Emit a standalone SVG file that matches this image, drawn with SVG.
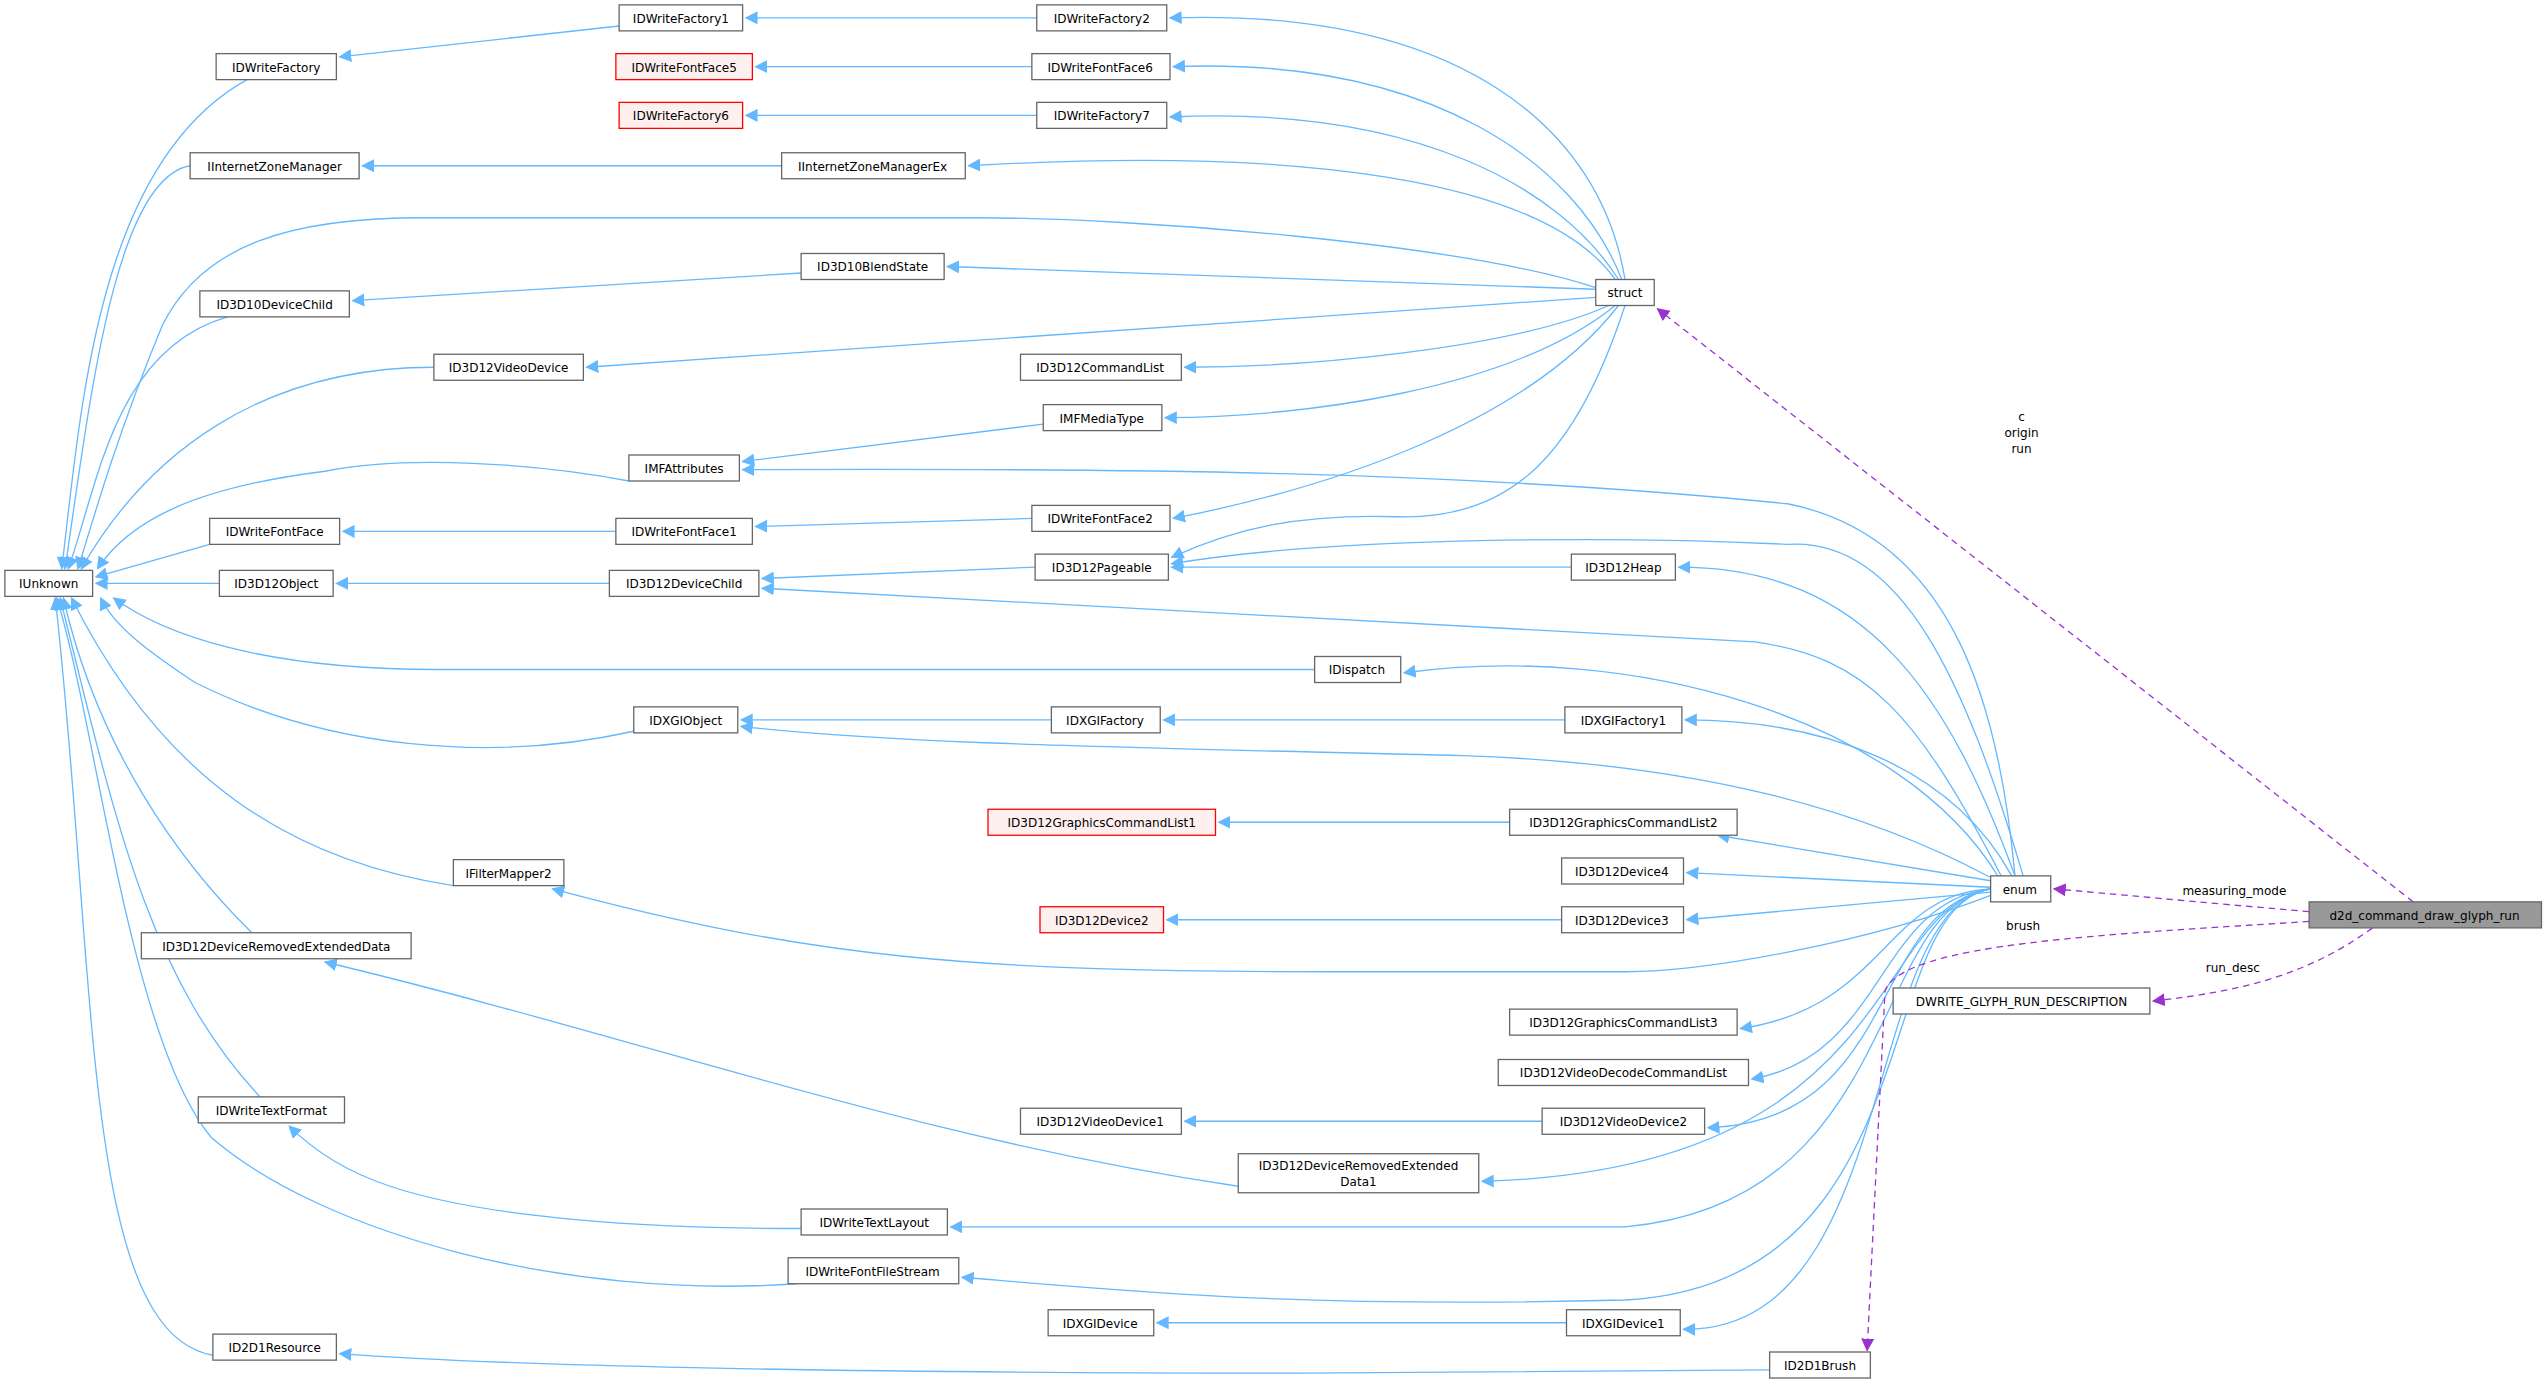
<svg xmlns="http://www.w3.org/2000/svg" width="2548" height="1385" viewBox="0 0 2548 1385">
<defs>
<marker id="ab" viewBox="0 0 10 10" refX="9" refY="5" markerWidth="8" markerHeight="8" markerUnits="userSpaceOnUse" orient="auto"><path d="M0,0 L10,5 L0,10 z" fill="#63b8ff"/></marker>
<marker id="ap" viewBox="0 0 10 10" refX="9" refY="5" markerWidth="8" markerHeight="8" markerUnits="userSpaceOnUse" orient="auto"><path d="M0,0 L10,5 L0,10 z" fill="#9a32cd"/></marker>
<style>
.n rect{fill:#fff;stroke:#666;stroke-width:0.8}
.r rect{fill:#fff0f0;stroke:#ff0000}
.g rect{fill:#999}
text{font-family:"DejaVu Sans","Liberation Sans",sans-serif;font-size:7.4px;fill:#000;text-anchor:middle}
.e path{fill:none;stroke:#63b8ff;stroke-width:0.8;marker-end:url(#ab)}
.p path{fill:none;stroke:#9a32cd;stroke-width:0.8;stroke-dasharray:4,3;marker-end:url(#ap)}
</style>
</defs>
<rect width="2548" height="1385" fill="#fff"/>
<g transform="scale(1.625)">
<g class="e">
<path d="M152,49 C60,100 50,250 38,350"/>
<path d="M117,102 C70,110 55,250 40,350"/>
<path d="M982,177 C900,150 700,134 600,134 L260,134 C180,134 125,150 100,200 C75,260 60,310 48,350"/>
<path d="M140,195 C70,215 60,300 42,350"/>
<path d="M267,226 C160,226 90,280 50,350"/>
<path d="M387,296 C330,285 250,280 200,290 C120,300 80,320 60,350"/>
<path d="M129,335 L59,355"/>
<path d="M135,359 L59,359"/>
<path d="M809,412 L270,412 C160,412 100,390 70,368"/>
<path d="M390,450 C300,470 200,460 120,420 C90,400 70,385 62,368"/>
<path d="M279,545 C180,530 100,480 44,368"/>
<path d="M155,574 C110,530 60,460 39,368"/>
<path d="M160,675 C90,600 70,500 37,368"/>
<path d="M490,790 C350,800 200,760 130,700 C80,640 60,450 35,368"/>
<path d="M131,834 C50,820 60,600 34,368"/>
<path d="M1000,172 C985,80 900,5 720,11"/>
<path d="M998,172 C970,100 880,35 722,41"/>
<path d="M996,172 C960,115 870,65 720,72"/>
<path d="M994,172 C950,110 800,90 596,102"/>
<path d="M982,178 L583,164"/>
<path d="M982,183 L361,226"/>
<path d="M990,188 C930,215 800,226 729,226"/>
<path d="M994,188 C930,240 800,257 717,257"/>
<path d="M996,188 C940,260 820,300 722,319"/>
<path d="M1000,188 C970,280 930,320 860,318 C800,316 760,325 721,343"/>
<path d="M1240,539 C1230,430 1200,330 1100,310 C900,290 700,288 457,289"/>
<path d="M1245,539 C1210,420 1170,330 1100,335 C1000,330 820,330 721,347"/>
<path d="M1240,539 C1200,430 1150,349 1033,349"/>
<path d="M1232,540 C1180,440 1150,405 1080,395 L469,362"/>
<path d="M1230,540 C1170,440 1000,395 864,414"/>
<path d="M1225,540 C1150,500 1050,470 900,465 C700,460 550,458 456,447"/>
<path d="M1238,539 C1200,470 1120,443 1037,443"/>
<path d="M1225,542 L1057,514"/>
<path d="M1225,546 L1038,537"/>
<path d="M1225,549 L1038,566"/>
<path d="M1225,551 C1150,580 1050,598 1000,598 L820,598 C600,598 500,590 340,547"/>
<path d="M1225,547 C1160,550 1160,620 1071,633"/>
<path d="M1225,547 C1155,555 1160,650 1078,664"/>
<path d="M1225,547 C1150,560 1170,690 1051,694"/>
<path d="M1225,547 C1150,560 1170,720 912,727"/>
<path d="M1225,547 C1150,560 1170,740 1000,755 L585,755"/>
<path d="M1225,547 C1150,560 1190,790 1000,800 C800,805 700,795 592,786"/>
<path d="M1225,547 C1145,560 1170,820 1036,818"/>
<path d="M381,16 L209,35"/>
<path d="M638,11 L459,11"/>
<path d="M635,41 L465,41"/>
<path d="M638,71 L459,71"/>
<path d="M481,102 L223,102"/>
<path d="M493,168 L217,185"/>
<path d="M642,261 L457,284"/>
<path d="M379,327 L211,327"/>
<path d="M635,319 L465,324"/>
<path d="M375,359 L207,359"/>
<path d="M637,349 L469,356"/>
<path d="M967,349 L721,349"/>
<path d="M647,443 L456,443"/>
<path d="M963,443 L716,443"/>
<path d="M929,506 L750,506"/>
<path d="M961,566 L718,566"/>
<path d="M949,690 L729,690"/>
<path d="M964,814 L712,814"/>
<path d="M1089,843 L800,845 C500,845 300,840 209,833"/>
<path d="M493,756 C400,756 300,750 240,730 C210,720 190,705 178,693"/>
<path d="M762,730 C560,700 400,640 200,592"/>
</g>
<g class="p">
<path d="M1485,555 L1020,190"/>
<path d="M1421,561 C1350,555 1300,550 1264,547"/>
<path d="M1421,567 C1300,575 1170,580 1160,610 L1149,831"/>
<path d="M1460,571 C1420,600 1380,610 1325,616"/>
</g>
<text x="1244" y="259">c</text><text x="1244" y="269">origin</text><text x="1244" y="279">run</text>
<text x="1375" y="551">measuring_mode</text>
<text x="1245" y="572">brush</text>
<text x="1374" y="598">run_desc</text>
<g id="IUnknown" class="n"><rect x="3" y="351" width="54" height="16"/><text x="30" y="362">IUnknown</text></g>
<g id="IDWriteFactory" class="n"><rect x="133" y="33" width="74" height="16"/><text x="170" y="44">IDWriteFactory</text></g>
<g id="IInternetZoneManager" class="n"><rect x="117" y="94" width="104" height="16"/><text x="169" y="105">IInternetZoneManager</text></g>
<g id="ID3D10DeviceChild" class="n"><rect x="123" y="179" width="92" height="16"/><text x="169" y="190">ID3D10DeviceChild</text></g>
<g id="ID3D12VideoDevice" class="n"><rect x="267" y="218" width="92" height="16"/><text x="313" y="229">ID3D12VideoDevice</text></g>
<g id="IMFAttributes" class="n"><rect x="387" y="280" width="68" height="16"/><text x="421" y="291">IMFAttributes</text></g>
<g id="IDWriteFontFace" class="n"><rect x="129" y="319" width="80" height="16"/><text x="169" y="330">IDWriteFontFace</text></g>
<g id="ID3D12Object" class="n"><rect x="135" y="351" width="70" height="16"/><text x="170" y="362">ID3D12Object</text></g>
<g id="ID3D12DeviceChild" class="n"><rect x="375" y="351" width="92" height="16"/><text x="421" y="362">ID3D12DeviceChild</text></g>
<g id="IDXGIObject" class="n"><rect x="390" y="435" width="64" height="16"/><text x="422" y="446">IDXGIObject</text></g>
<g id="IFilterMapper2" class="n"><rect x="279" y="529" width="68" height="16"/><text x="313" y="540">IFilterMapper2</text></g>
<g id="ID3D12DeviceRemovedExtendedData" class="n"><rect x="87" y="574" width="166" height="16"/><text x="170" y="585">ID3D12DeviceRemovedExtendedData</text></g>
<g id="IDWriteTextFormat" class="n"><rect x="122" y="675" width="90" height="16"/><text x="167" y="686">IDWriteTextFormat</text></g>
<g id="IDWriteTextLayout" class="n"><rect x="493" y="744" width="90" height="16"/><text x="538" y="755">IDWriteTextLayout</text></g>
<g id="IDWriteFontFileStream" class="n"><rect x="485" y="774" width="105" height="16"/><text x="537" y="785">IDWriteFontFileStream</text></g>
<g id="ID2D1Resource" class="n"><rect x="131" y="821" width="76" height="16"/><text x="169" y="832">ID2D1Resource</text></g>
<g id="IDWriteFactory1" class="n"><rect x="381" y="3" width="76" height="16"/><text x="419" y="14">IDWriteFactory1</text></g>
<g id="IDWriteFontFace5" class="n r"><rect x="379" y="33" width="84" height="16"/><text x="421" y="44">IDWriteFontFace5</text></g>
<g id="IDWriteFactory6" class="n r"><rect x="381" y="63" width="76" height="16"/><text x="419" y="74">IDWriteFactory6</text></g>
<g id="IInternetZoneManagerEx" class="n"><rect x="481" y="94" width="113" height="16"/><text x="537" y="105">IInternetZoneManagerEx</text></g>
<g id="ID3D10BlendState" class="n"><rect x="493" y="156" width="88" height="16"/><text x="537" y="167">ID3D10BlendState</text></g>
<g id="IDWriteFontFace1" class="n"><rect x="379" y="319" width="84" height="16"/><text x="421" y="330">IDWriteFontFace1</text></g>
<g id="IDWriteFactory2" class="n"><rect x="638" y="3" width="80" height="16"/><text x="678" y="14">IDWriteFactory2</text></g>
<g id="IDWriteFontFace6" class="n"><rect x="635" y="33" width="85" height="16"/><text x="677" y="44">IDWriteFontFace6</text></g>
<g id="IDWriteFactory7" class="n"><rect x="638" y="63" width="80" height="16"/><text x="678" y="74">IDWriteFactory7</text></g>
<g id="ID3D12CommandList" class="n"><rect x="628" y="218" width="99" height="16"/><text x="677" y="229">ID3D12CommandList</text></g>
<g id="IMFMediaType" class="n"><rect x="642" y="249" width="73" height="16"/><text x="678" y="260">IMFMediaType</text></g>
<g id="IDWriteFontFace2" class="n"><rect x="635" y="311" width="85" height="16"/><text x="677" y="322">IDWriteFontFace2</text></g>
<g id="ID3D12Pageable" class="n"><rect x="637" y="341" width="82" height="16"/><text x="678" y="352">ID3D12Pageable</text></g>
<g id="ID3D12Heap" class="n"><rect x="967" y="341" width="64" height="16"/><text x="999" y="352">ID3D12Heap</text></g>
<g id="IDispatch" class="n"><rect x="809" y="404" width="53" height="16"/><text x="835" y="415">IDispatch</text></g>
<g id="IDXGIFactory" class="n"><rect x="647" y="435" width="67" height="16"/><text x="680" y="446">IDXGIFactory</text></g>
<g id="IDXGIFactory1" class="n"><rect x="963" y="435" width="72" height="16"/><text x="999" y="446">IDXGIFactory1</text></g>
<g id="ID3D12GraphicsCommandList1" class="n r"><rect x="608" y="498" width="140" height="16"/><text x="678" y="509">ID3D12GraphicsCommandList1</text></g>
<g id="ID3D12GraphicsCommandList2" class="n"><rect x="929" y="498" width="140" height="16"/><text x="999" y="509">ID3D12GraphicsCommandList2</text></g>
<g id="ID3D12Device4" class="n"><rect x="961" y="528" width="75" height="16"/><text x="998" y="539">ID3D12Device4</text></g>
<g id="ID3D12Device2" class="n r"><rect x="640" y="558" width="76" height="16"/><text x="678" y="569">ID3D12Device2</text></g>
<g id="ID3D12Device3" class="n"><rect x="961" y="558" width="75" height="16"/><text x="998" y="569">ID3D12Device3</text></g>
<g id="struct" class="n"><rect x="982" y="172" width="36" height="16"/><text x="1000" y="183">struct</text></g>
<g id="enum" class="n"><rect x="1225" y="539" width="37" height="16"/><text x="1243" y="550">enum</text></g>
<g id="d2d_command_draw_glyph_run" class="n g"><rect x="1421" y="555" width="143" height="16"/><text x="1492" y="566">d2d_command_draw_glyph_run</text></g>
<g id="DWRITE_GLYPH_RUN_DESCRIPTION" class="n"><rect x="1165" y="608" width="158" height="16"/><text x="1244" y="619">DWRITE_GLYPH_RUN_DESCRIPTION</text></g>
<g id="ID3D12GraphicsCommandList3" class="n"><rect x="929" y="621" width="140" height="16"/><text x="999" y="632">ID3D12GraphicsCommandList3</text></g>
<g id="ID3D12VideoDecodeCommandList" class="n"><rect x="922" y="652" width="154" height="16"/><text x="999" y="663">ID3D12VideoDecodeCommandList</text></g>
<g id="ID3D12VideoDevice1" class="n"><rect x="628" y="682" width="99" height="16"/><text x="677" y="693">ID3D12VideoDevice1</text></g>
<g id="ID3D12VideoDevice2" class="n"><rect x="949" y="682" width="100" height="16"/><text x="999" y="693">ID3D12VideoDevice2</text></g>
<g id="ID3D12DeviceRemovedExtendedData1" class="n"><rect x="762" y="710" width="148" height="24"/><text x="836" y="720">ID3D12DeviceRemovedExtended</text><text x="836" y="730">Data1</text></g>
<g id="IDXGIDevice" class="n"><rect x="645" y="806" width="65" height="16"/><text x="677" y="817">IDXGIDevice</text></g>
<g id="IDXGIDevice1" class="n"><rect x="964" y="806" width="70" height="16"/><text x="999" y="817">IDXGIDevice1</text></g>
<g id="ID2D1Brush" class="n"><rect x="1089" y="832" width="62" height="16"/><text x="1120" y="843">ID2D1Brush</text></g>
</g>
</svg>
